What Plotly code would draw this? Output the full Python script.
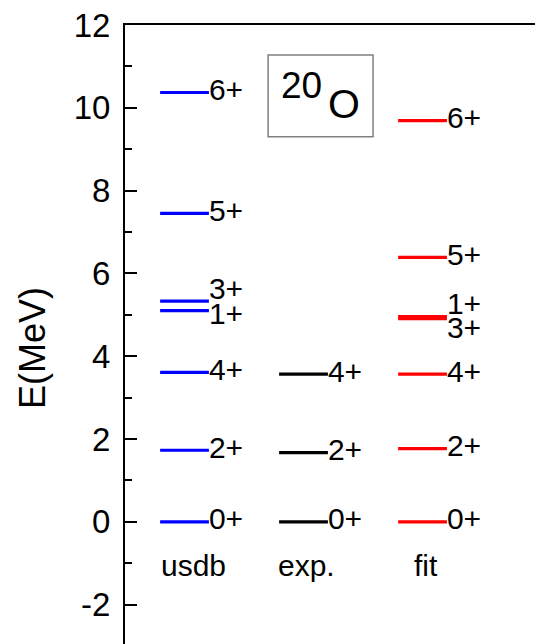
import plotly.graph_objects as go

# Level schemes of 20O (MeV)
columns = ["usdb", "exp.", "fit"]
colors = ["#0000ff", "#000000", "#ff0000"]

usdb_spins = ["0+", "2+", "4+", "1+", "3+", "5+", "6+"]
usdb_energy = [0.0, 1.73, 3.61, 5.10, 5.33, 7.45, 10.37]
usdb_label_y = [0.0, 1.73, 3.61, 4.95, 5.56, 7.45, 10.37]

exp_spins = ["0+", "2+", "4+"]
exp_energy = [0.0, 1.67, 3.57]
exp_label_y = [0.0, 1.67, 3.57]

fit_spins = ["0+", "2+", "4+", "3+", "1+", "5+", "6+"]
fit_energy = [0.0, 1.77, 3.57, 4.91, 4.96, 6.39, 9.69]
fit_label_y = [0.0, 1.77, 3.57, 4.63, 5.19, 6.39, 9.69]

y_ticks = [-2, 0, 2, 4, 6, 8, 10, 12]
y_tick_text = ["-2", "0", "2", "4", "6", "8", "10", "12"]

spins = [usdb_spins, exp_spins, fit_spins]
energies = [usdb_energy, exp_energy, fit_energy]
label_ys = [usdb_label_y, exp_label_y, fit_label_y]

HALF = 0.205          # half-width of a level bar in column units
NAME_SHIFT = [0.076, 0.025, 0.03]
FONT = "Liberation Sans, Arial, sans-serif"

fig = go.Figure()

for i, (name, col) in enumerate(zip(columns, colors)):
    xs, ys = [], []
    for e in energies[i]:
        xs += [i - HALF, i + HALF, None]
        ys += [e, e, None]
    fig.add_trace(go.Scatter(x=xs, y=ys, mode="lines",
                             line=dict(color=col, width=3.2),
                             hoverinfo="skip", showlegend=False))
    fig.add_trace(go.Scatter(x=[i + HALF] * len(spins[i]), y=label_ys[i],
                             mode="text", text=spins[i],
                             textposition="middle right",
                             textfont=dict(family=FONT, size=30, color="black"),
                             hoverinfo="skip", showlegend=False))
    fig.add_annotation(x=i + NAME_SHIFT[i], y=-1.05, text=name, showarrow=False,
                       xanchor="center", yanchor="middle",
                       font=dict(family=FONT, size=30, color="black"))

# nucleus tag
fig.add_shape(type="rect", xref="paper", yref="paper",
              x0=0.349, x1=0.605, y0=0.8196, y1=0.9515,
              line=dict(color="#808080", width=1.5), fillcolor="rgba(0,0,0,0)")
fig.add_annotation(xref="paper", yref="paper", x=0.431, y=0.903, text="20",
                   showarrow=False, xanchor="center", yanchor="middle",
                   font=dict(family=FONT, size=37, color="black"))
fig.add_annotation(xref="paper", yref="paper", x=0.534, y=0.873, text="O",
                   showarrow=False, xanchor="center", yanchor="middle",
                   font=dict(family=FONT, size=41, color="black"))

# vertical axis title
fig.add_annotation(xref="paper", yref="paper", x=-0.227, y=0.478, text="E(MeV)",
                   textangle=-90, showarrow=False, xanchor="center", yanchor="middle",
                   font=dict(family=FONT, size=36, color="black"))

fig.update_layout(
    width=535, height=644,
    margin=dict(l=125, r=0, t=25, b=0),
    paper_bgcolor="white", plot_bgcolor="white",
    xaxis=dict(range=[-0.5, 2.945], side="top", showline=True, linecolor="black",
               linewidth=2, showticklabels=False, ticks="", showgrid=False,
               zeroline=False, fixedrange=True),
    yaxis=dict(range=[-2.95, 12], tickvals=y_ticks, ticktext=y_tick_text,
               ticks="inside", ticklen=12,
               tickwidth=2, tickcolor="black", showline=True, linecolor="black",
               linewidth=2, showgrid=False, zeroline=False,
               tickfont=dict(family=FONT, size=33, color="black"),
               ticklabelstandoff=6,
               minor=dict(dtick=1, ticks="inside", ticklen=7, tickwidth=2,
                          tickcolor="black", showgrid=False)),
)

fig.write_html("out.html")
